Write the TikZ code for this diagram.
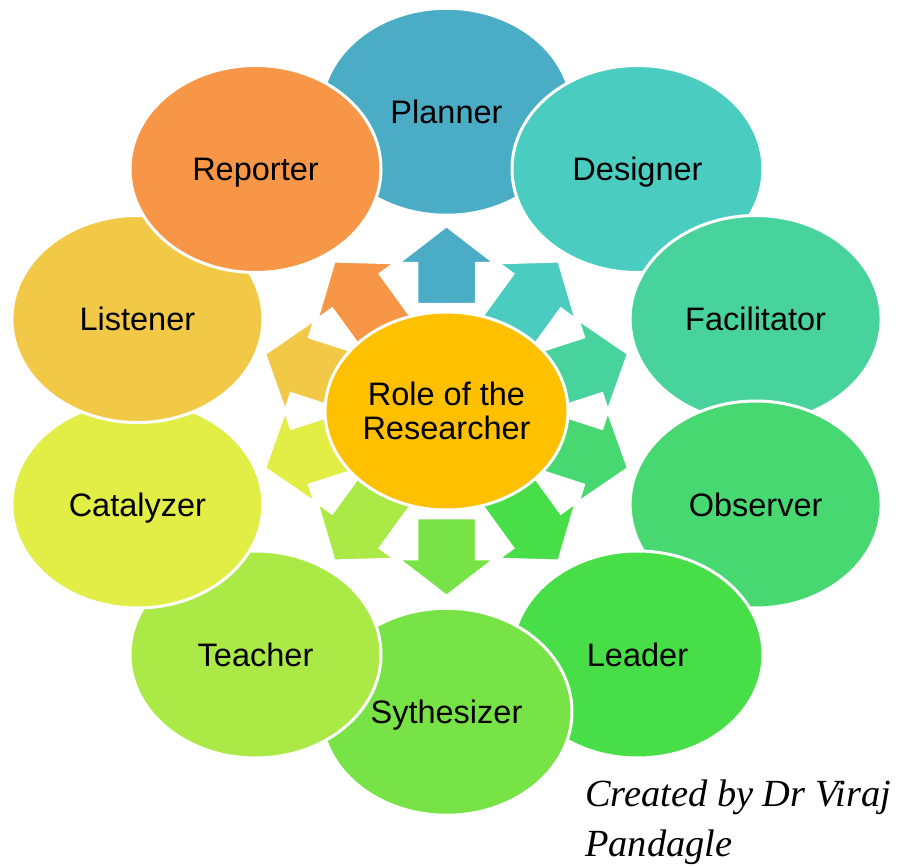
\documentclass[tikz,border=0pt]{standalone}
\usepackage{fontspec}
\setmainfont{Liberation Sans}
\newfontfamily\creditfont{Liberation Serif}
\usetikzlibrary{shapes.geometric}

% colourful range, blue through green and yellow to orange
\definecolor{cPlanner}{HTML}{4BACC6}
\definecolor{cDesigner}{HTML}{4ACCC1}
\definecolor{cFacilitator}{HTML}{48D29C}
\definecolor{cObserver}{HTML}{47D872}
\definecolor{cLeader}{HTML}{48DE47}
\definecolor{cSynth}{HTML}{78E346}
\definecolor{cTeacher}{HTML}{ABE946}
\definecolor{cCatalyzer}{HTML}{E2EE46}
\definecolor{cListener}{HTML}{F2C946}
\definecolor{cReporter}{HTML}{F79646}
\definecolor{cCore}{HTML}{FFC000}

\tikzset{
  labelfont/.style={font=\fontsize{32.5pt}{34pt}\selectfont},
  role/.style={ellipse, draw=white, line width=3pt, labelfont,
    minimum width=251pt, minimum height=207pt, inner sep=0pt,
    text height=23.2pt, text depth=0pt},
  core/.style={ellipse, draw=white, line width=3pt, fill=cCore, labelfont,
    minimum width=243pt, minimum height=198pt, inner sep=0pt, align=center},
  blockarrow/.style={draw=white, line width=2.5pt, line join=miter},
}

\begin{document}
\begin{tikzpicture}[x=1pt, y=-1pt]
  \path[fill=white, use as bounding box] (0,0) rectangle (898,867);

  % outer ring of roles, laid clockwise so each overlaps the previous one
  \node[role, fill=cPlanner]     (planner)     at (446.5,111.75) {Planner};
  \node[role, fill=cDesigner]    (designer)    at (637.5,169.0)  {Designer};
  \node[role, fill=cFacilitator] (facilitator) at (755.6,319.0)  {Facilitator};
  \node[role, fill=cObserver]    (observer)    at (755.6,504.5)  {Observer};
  \node[role, fill=cLeader]      (leader)      at (637.5,654.5)  {Leader};
  \node[role, fill=cSynth]       (synth)       at (446.5,711.75) {Sythesizer};
  \node[role, fill=cTeacher]     (teacher)     at (255.5,654.5)  {Teacher};
  \node[role, fill=cCatalyzer]   (catalyzer)   at (137.4,504.5)  {Catalyzer};
  \node[role, fill=cListener]    (listener)    at (137.4,319.0)  {Listener};
  \node[role, fill=cReporter]    (reporter)    at (255.5,169.0)  {Reporter};

  % hub of the diverging arrows
  \coordinate (hub) at (446.5,411);

  % block arrows: tip on an ellipse round the hub, pointing outwards
  \foreach \ang/\col/\tail in {90/cPlanner/78, 54/cDesigner/100,
      18/cFacilitator/100, -18/cObserver/100, -54/cLeader/100,
      -90/cSynth/78, -126/cTeacher/100, -162/cCatalyzer/100,
      162/cListener/100, 126/cReporter/100}{
    \path[blockarrow, fill=\col, shift={(hub)}, shift={(-\ang:191 and 185)},
          rotate=\ang]
      (0,0) -- (-37,48) -- (-37,29.5) -- (-\tail,29.5)
      -- (-\tail,-29.5) -- (-37,-29.5) -- (-37,-48) -- cycle;
  }

  % central topic
  \node[core] (core) at (hub) {Role of the\\Researcher};

  % credit line, anchored on the baseline of its last line
  \node[anchor=base west, align=left, inner sep=0pt,
        font=\creditfont\itshape\fontsize{38.4pt}{50pt}\selectfont]
    (credit) at (585,856.7) {Created by Dr Viraj\\Pandagle};
\end{tikzpicture}
\end{document}
